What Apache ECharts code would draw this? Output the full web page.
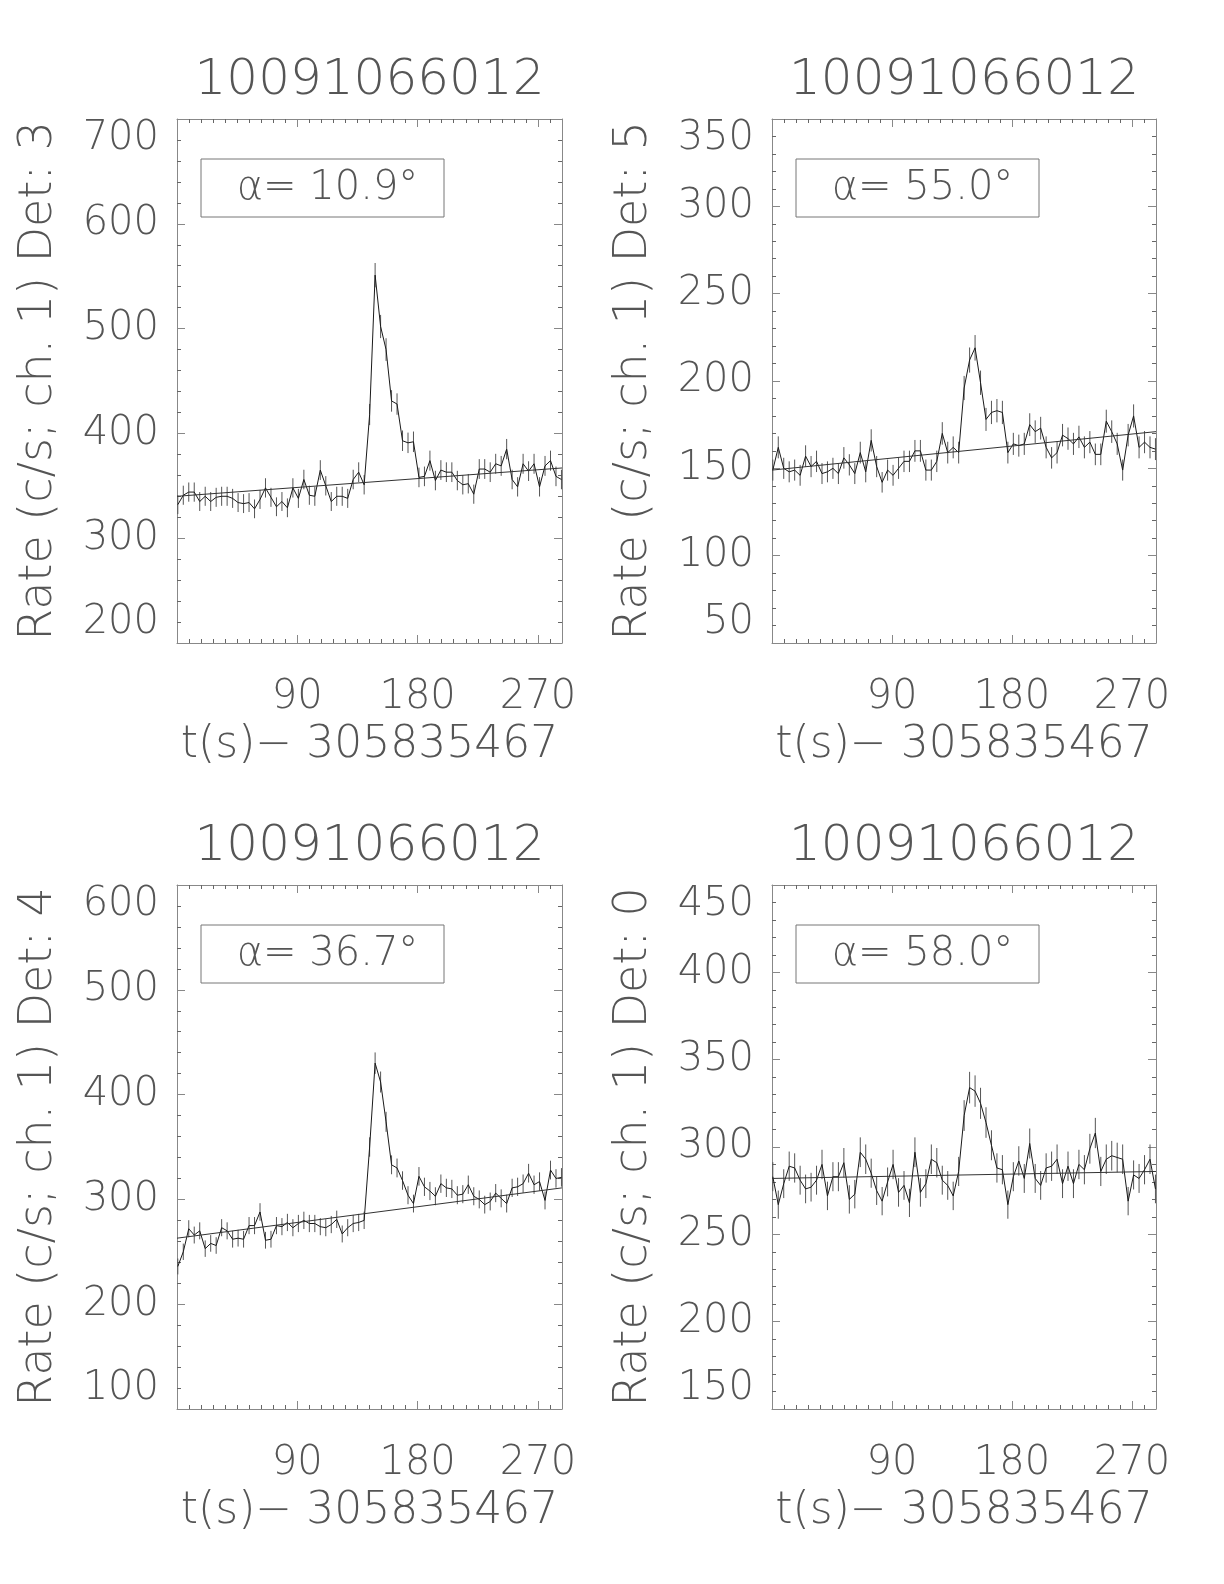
<!DOCTYPE html>
<html><head><meta charset="utf-8">
<script src="https://cdn.jsdelivr.net/npm/echarts@6/dist/echarts.min.js"></script>
<style>html,body{margin:0;padding:0;background:#fff}#c{width:1224px;height:1584px}</style>
</head><body><div id="c"></div>
<script>
// time bins (s, relative to 305835467)
const times = [0.6,4.7,8.8,12.9,17.0,21.1,25.2,29.3,33.4,37.5,41.6,45.7,49.8,53.9,58.0,62.1,66.2,70.3,74.4,78.5,82.6,86.7,90.8,94.9,99.0,103.1,107.2,111.3,115.4,119.5,123.6,127.7,131.8,135.9,140.0,144.1,148.2,152.3,156.4,160.5,164.6,168.7,172.8,176.9,181.0,185.1,189.2,193.3,197.4,201.5,205.6,209.7,213.8,217.9,222.0,226.1,230.2,234.3,238.4,242.5,246.6,250.7,254.8,258.9,263.0,267.1,271.2,275.3,279.4,283.5,287.6];
const rateDet3 = [332,341,344,344,335,340,335,339,340,340,338,334,333,334,328,337,348,339,330,335,329,348,338,356,341,340,365,350,335,340,340,338,356,363,351,418,551,502,480,431,428,393,391,392,358,359,374,355,365,363,363,355,351,352,342,366,366,363,371,369,385,356,349,371,364,371,349,369,374,359,356];
const rateDet5 = [149,162,150,148,149,146,157,151,154,147,148,150,147,156,152,147,159,148,166,151,142,149,146,150,154,154,160,160,149,149,154,170,159,162,159,196,212,219,199,178,182,183,182,159,164,163,164,175,171,173,162,156,159,169,167,164,168,162,165,158,158,177,171,164,149,169,180,162,165,162,161];
const rateDet4 = [236,250,272,266,270,253,258,256,273,270,262,263,262,275,275,288,261,262,275,274,278,273,277,280,277,277,274,273,276,281,267,273,277,278,280,350,430,412,374,333,330,318,304,296,322,312,308,303,315,311,310,304,305,314,303,300,295,298,306,301,296,311,312,315,325,314,317,299,328,320,321];
const rateDet0 = [283,267,279,289,288,281,276,277,281,290,272,283,283,291,270,273,297,293,285,275,269,280,290,274,278,268,297,274,279,293,291,281,278,272,286,318,334,332,325,314,301,288,287,267,283,292,282,302,282,278,288,289,293,279,289,279,290,287,299,308,286,293,295,294,293,269,284,282,287,293,276];
const fitDet3 = [340, 367];   // background fit at t = 0 and t = 288
const fitDet5 = [149, 171];
const fitDet4 = [263, 311];
const fitDet0 = [282, 286];
const panelTitles = ['10091066012','10091066012','10091066012','10091066012'];
const detectorNames = ['3','5','4','0'];
const alphaValues = ['10.9','55.0','36.7','58.0'];
const yMins = [200, 50, 100, 150];
const yMaxs = [700, 350, 600, 450];
const yIntervals = [100, 50, 100, 50];
const xTickLabels = [90, 180, 270];
const xRange = [0, 288];
const binWidth = 4.1;
const xAxisTitle = 't(s)\u2212 305835467';

const rates = [rateDet3, rateDet5, rateDet4, rateDet0];
const fits = [fitDet3, fitDet5, fitDet4, fitDet0];

const grids = [
  {left:177, top:119, width:385, height:524},
  {left:772, top:119, width:384, height:524},
  {left:177, top:885, width:385, height:524},
  {left:772, top:885, width:384, height:524}
];
const FONT = 'DejaVu Sans';
const TXT = '#555';
const FRAME = '#888';

const xAxes = [], yAxes = [], series = [], graphics = [];
grids.forEach((g, i) => {
  const common = {
    gridIndex: i, type: 'value', min: xRange[0], max: xRange[1], interval: 90,
    axisLine: {show: true, onZero: false, lineStyle: {color: FRAME, width: 1}},
    axisTick: {show: true, inside: true, length: 8, lineStyle: {color: FRAME}},
    minorTick: {show: true, splitNumber: 10, length: 4, lineStyle: {color: '#666'}},
    splitLine: {show: false}
  };
  xAxes.push(Object.assign({}, common, {
    position: 'bottom',
    axisLabel: {show: true, margin: 35, fontFamily: FONT, fontSize: 40, fontWeight: 200, color: TXT,
      showMinLabel: false, showMaxLabel: false,
      formatter: v => xTickLabels.includes(v) ? String(v) : ''},
    name: xAxisTitle, nameLocation: 'middle', nameGap: 81,
    nameTextStyle: {fontFamily: FONT, fontSize: 44, fontWeight: 200, color: TXT}
  }));
  xAxes.push(Object.assign({}, common, {position: 'top', axisLabel: {show: false}}));
  const ycommon = {
    gridIndex: i, type: 'value', min: yMins[i], max: yMaxs[i], interval: yIntervals[i],
    axisLine: {show: true, onZero: false, lineStyle: {color: FRAME, width: 1}},
    axisTick: {show: true, inside: true, length: 8, lineStyle: {color: FRAME}},
    minorTick: {show: true, splitNumber: 5, length: 4, lineStyle: {color: '#666'}},
    splitLine: {show: false}
  };
  yAxes.push(Object.assign({}, ycommon, {
    position: 'left',
    axisLabel: {show: true, margin: 18, fontFamily: FONT, fontSize: 40, fontWeight: 200, color: TXT,
      verticalAlignMinLabel: 'bottom', verticalAlignMaxLabel: 'top'},
    name: 'Rate (c/s; ch. 1) Det: ' + detectorNames[i], nameLocation: 'middle', nameRotate: 90, nameGap: 115,
    nameTextStyle: {fontFamily: FONT, fontSize: 46, fontWeight: 200, color: TXT}
  }));
  yAxes.push(Object.assign({}, ycommon, {position: 'right', axisLabel: {show: false}}));

  const xi = 2 * i, yi = 2 * i;
  const r = rates[i];
  series.push({
    type: 'custom', xAxisIndex: xi, yAxisIndex: yi, silent: true, z: 2,
    data: times.map((t, k) => { const e = Math.sqrt(r[k] / binWidth); return [t, r[k] - e, r[k] + e]; }),
    encode: {x: 0, y: [1, 2]},
    renderItem: (params, api) => {
      const p1 = api.coord([api.value(0), api.value(1)]);
      const p2 = api.coord([api.value(0), api.value(2)]);
      return {type: 'line', shape: {x1: p1[0], y1: p1[1], x2: p2[0], y2: p2[1]},
        style: {stroke: '#555', lineWidth: 1}};
    }
  });
  series.push({
    type: 'line', xAxisIndex: xi, yAxisIndex: yi, silent: true, z: 3,
    data: times.map((t, k) => [t, r[k]]), symbol: 'none',
    lineStyle: {color: '#1a1a1a', width: 1}
  });
  series.push({
    type: 'line', xAxisIndex: xi, yAxisIndex: yi, silent: true, z: 3,
    data: [[xRange[0], fits[i][0]], [xRange[1], fits[i][1]]], symbol: 'none',
    lineStyle: {color: '#333', width: 1}
  });

  // title
  graphics.push({type: 'text', x: g.left + g.width / 2, y: g.top - 38,
    style: {text: panelTitles[i], font: '200 50px "' + FONT + '"', fill: TXT, align: 'center', verticalAlign: 'middle'}});
  // alpha box
  const bx = g.left + 24, by = g.top + 40, bw = 243, bh = 58;
  graphics.push({type: 'rect', shape: {x: bx, y: by, width: bw, height: bh},
    style: {fill: 'none', stroke: '#777', lineWidth: 1}, z: 10});
  graphics.push({type: 'text', x: bx + bw / 2 + 5, y: by + bh / 2 + 1, z: 11,
    style: {text: '\u03b1= ' + alphaValues[i] + '\u00b0', fill: TXT,
      font: '200 40px "' + FONT + '"', align: 'center', verticalAlign: 'middle'}});
});

const chart = echarts.init(document.getElementById('c'), null, {renderer: 'canvas'});
chart.setOption({
  backgroundColor: '#fff',
  animation: false,
  grid: grids.map(g => Object.assign({containLabel: false}, g)),
  xAxis: xAxes, yAxis: yAxes, series: series, graphic: graphics
});
</script></body></html>
